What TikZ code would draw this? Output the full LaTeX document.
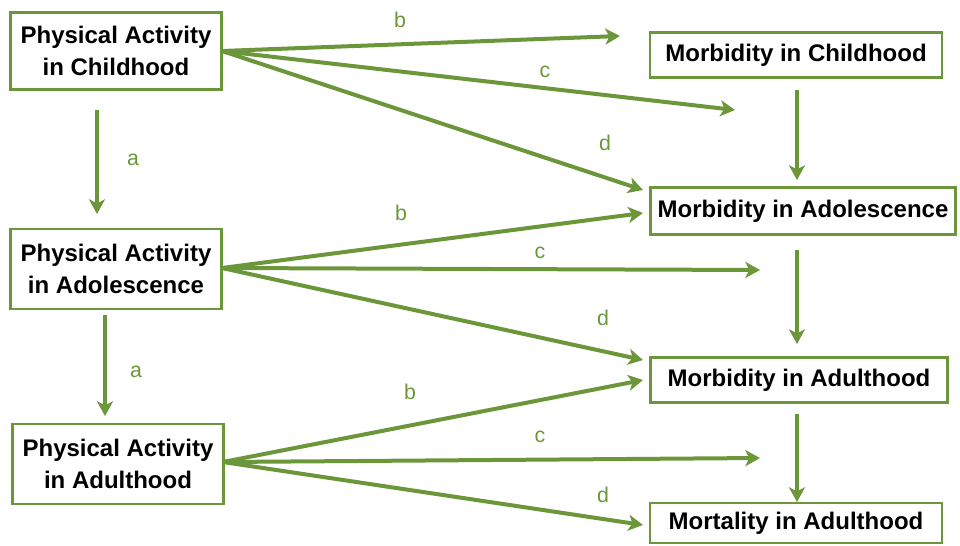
\documentclass[tikz,border=0pt]{standalone}
\usepackage{fontspec}
\setmainfont{Liberation Sans}
\usetikzlibrary{arrows.meta}
\definecolor{pagreen}{RGB}{107,150,57}
\tikzset{
  box/.style={draw=pagreen, line width=2pt, fill=white, inner sep=0pt, align=center,
    font=\fontsize{18}{24}\selectfont\bfseries, text=black},
  conn/.style={draw=pagreen, line width=3pt, -{Stealth[length=11pt,width=12pt,inset=3pt]}},
  lab/.style={text=pagreen, font=\fontsize{16}{18}\selectfont, inner sep=0pt}
}
\begin{document}
\begin{tikzpicture}[x=0.75pt,y=-0.75pt]
\useasboundingbox (0,0) rectangle (960,546);
% left boxes
\node[box, minimum width=158pt, minimum height=58pt] (pac) at (116,51) {Physical Activity\\in Childhood};
\node[box, minimum width=158pt, minimum height=60pt] (paa) at (116,269) {Physical Activity\\in Adolescence};
\node[box, minimum width=158pt, minimum height=60pt] (pau) at (118,464) {Physical Activity\\in Adulthood};
% right boxes
\node[box, minimum width=219pt, minimum height=34pt] (mch) at (796,55) {Morbidity in Childhood};
\node[box, minimum width=229pt, minimum height=35pt] (mad) at (803,211) {Morbidity in Adolescence};
\node[box, minimum width=223pt, minimum height=34pt] (mau) at (799,380) {Morbidity in Adulthood};
\node[box, minimum width=219pt, minimum height=30pt] (mor) at (796,523) {Mortality in Adulthood};
% free ends
\coordinate (t1b) at (620,36);
\coordinate (t1c) at (735,110);
\coordinate (t1d) at (643,190);
\coordinate (t2b) at (643,213);
\coordinate (t2c) at (760,270);
\coordinate (t2d) at (643,360);
\coordinate (t3b) at (643,380);
\coordinate (t3c) at (760,458);
\coordinate (t3d) at (643,525);
\coordinate (s1) at (222,51);
\coordinate (s2) at (222,268);
\coordinate (s3) at (223,462);
\coordinate (a1s) at (97,110);
\coordinate (a1e) at (97,214);
\coordinate (a2s) at (105,315);
\coordinate (a2e) at (105,416);
\coordinate (r1s) at (797,90);
\coordinate (r1e) at (797,180);
\coordinate (r2s) at (797,250);
\coordinate (r2e) at (797,344);
\coordinate (r3s) at (797,414);
\coordinate (r3e) at (797,502);
% connectors
\draw[conn] (s1) -- (t1b);
\draw[conn] (s1) -- (t1c);
\draw[conn] (s1) -- (t1d);
\draw[conn] (s2) -- (t2b);
\draw[conn] (s2) -- (t2c);
\draw[conn] (s2) -- (t2d);
\draw[conn] (s3) -- (t3b);
\draw[conn] (s3) -- (t3c);
\draw[conn] (s3) -- (t3d);
\draw[conn] (a1s) -- (a1e);
\draw[conn] (a2s) -- (a2e);
\draw[conn] (r1s) -- (r1e);
\draw[conn] (r2s) -- (r2e);
\draw[conn] (r3s) -- (r3e);
% labels
\node[lab] (lb1) at (400,20) {b};
\node[lab] (lc1) at (545,72) {c};
\node[lab] (ld1) at (605,143) {d};
\node[lab] (la1) at (133,160) {a};
\node[lab] (lb2) at (401,213) {b};
\node[lab] (lc2) at (540,253) {c};
\node[lab] (ld2) at (603,318) {d};
\node[lab] (la2) at (136,372) {a};
\node[lab] (lb3) at (410,392) {b};
\node[lab] (lc3) at (540,437) {c};
\node[lab] (ld3) at (603,495) {d};
\end{tikzpicture}
\end{document}
